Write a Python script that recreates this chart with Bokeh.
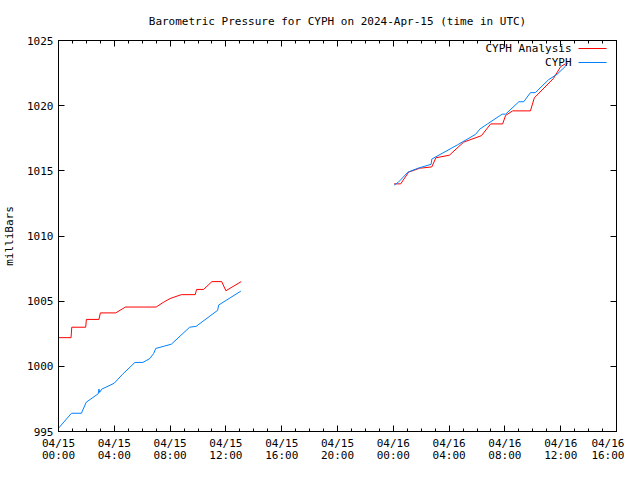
import numpy as np
from bokeh.plotting import figure
from bokeh.models import (Range1d, FixedTicker, LinearAxis, Label, BoxAnnotation,
                          CustomJSTickFormatter)
from bokeh.embed import file_html
from bokeh.resources import INLINE

FONT = "DejaVu Sans Mono"
RED = "#ff0000"
BLUE = "#0080ff"

# ---- data (hours since 2024-04-15 00:00 UTC, pressure in mb) ----
analysis_left_hours = [0.0, 0.9, 0.95, 1.95, 2.0, 2.9, 3.0, 4.1, 4.8, 7.0, 7.5,
                       8.0, 8.8, 9.8, 9.9, 10.4, 11.0, 11.7, 12.0, 13.1]
analysis_left_mb = [1002.2, 1002.2, 1003.0, 1003.0, 1003.6, 1003.6, 1004.1, 1004.1,
                    1004.55, 1004.55, 1004.9, 1005.2, 1005.5, 1005.5, 1005.9, 1005.9,
                    1006.5, 1006.5, 1005.8, 1006.5]
analysis_right_hours = [24.06, 24.53, 25.1, 25.89, 26.76, 27.05, 28.02, 29.04, 30.32,
                        30.98, 31.84, 32.05, 32.55, 33.83, 34.11, 35.49, 36.0, 36.32]
analysis_right_mb = [1014.0, 1014.0, 1014.9, 1015.2, 1015.3, 1016.0, 1016.2, 1017.2,
                     1017.7, 1018.6, 1018.6, 1019.25, 1019.6, 1019.6, 1020.6, 1022.1,
                     1023.0, 1023.2]

obs_left_hours = [0.0, 0.93, 1.64, 1.99, 2.85, 2.9, 2.95, 3.1, 3.99, 4.6, 5.48, 6.05,
                  6.55, 6.83, 6.97, 7.62, 8.09, 9.4, 9.87, 11.41, 11.48, 13.07]
obs_left_mb = [995.25, 996.4, 996.4, 997.25, 997.9, 998.25, 998.0, 998.25, 998.7,
               999.4, 1000.3, 1000.3, 1000.6, 1001.0, 1001.37, 1001.56, 1001.7,
               1003.0, 1003.07, 1004.3, 1004.7, 1005.77]
obs_right_hours = [24.06, 24.34, 25.05, 25.77, 26.71, 26.76, 28.61, 29.9, 30.2, 30.75,
                   31.81, 32.05, 33.0, 33.35, 33.83, 34.18, 35.14, 35.73, 36.32, 36.5]
obs_right_mb = [1013.9, 1014.1, 1014.9, 1015.2, 1015.5, 1015.9, 1017.0, 1017.8, 1018.2,
                1018.6, 1019.35, 1019.35, 1020.3, 1020.3, 1021.0, 1021.0, 1022.0,
                1022.4, 1023.0, 1023.3]

x_tick_hours = [0, 4, 8, 12, 16, 20, 24, 28, 32, 36, 40]
x_tick_labels = ["04/15\n00:00", "04/15\n04:00", "04/15\n08:00", "04/15\n12:00",
                 "04/15\n16:00", "04/15\n20:00", "04/16\n00:00", "04/16\n04:00",
                 "04/16\n08:00", "04/16\n12:00", "04/16\n16:00"]
x_minor_hours = list(range(0, 41))
y_ticks = [995, 1000, 1005, 1010, 1015, 1020, 1025]

series_names = ["CYPH Analysis", "CYPH"]

# ---- layout ----
W, H = 624, 464
BL, BR, BT, BB = 58, 8, 40, 32
FW, FH = W - BL - BR, H - BT - BB

p = figure(width=W, height=H, output_backend="svg", toolbar_location=None,
           x_range=Range1d(0, 40), y_range=Range1d(995, 1025),
           min_border_left=BL, min_border_right=BR, min_border_top=BT,
           min_border_bottom=BB, background_fill_color="white",
           border_fill_color="white")
p.title.text = "Barometric Pressure for CYPH on 2024-Apr-15 (time in UTC)"
p.title.text_font = FONT
p.title.text_font_size = "11px"
p.title.text_font_style = "normal"
p.title.text_color = "black"
p.title.align = "center"
p.title.standoff = 25

p.grid.visible = False
p.outline_line_color = "black"
p.outline_line_width = 1

nan = [np.nan]
ax_x = analysis_left_hours + nan + analysis_right_hours
ax_y = analysis_left_mb + nan + analysis_right_mb
ob_x = obs_left_hours + nan + obs_right_hours
ob_y = obs_left_mb + nan + obs_right_mb
p.line(ax_x, ax_y, line_color=RED, line_width=1)
p.line(ob_x, ob_y, line_color=BLUE, line_width=1)

xt = FixedTicker(ticks=x_tick_hours, minor_ticks=x_minor_hours)
yt = FixedTicker(ticks=y_ticks, minor_ticks=[])

xa = p.xaxis[0]
xa.ticker = xt
xa.major_label_overrides = {t: l for t, l in zip(x_tick_hours, x_tick_labels)}
ya = p.yaxis[0]
ya.ticker = yt
ya.axis_label = "milliBars"

for a in (xa, ya):
    a.major_tick_in = 6
    a.major_tick_out = 0
    a.minor_tick_in = 3
    a.minor_tick_out = 0
    a.major_label_text_font = FONT
    a.major_label_text_font_size = "11px"
    a.major_label_text_color = "black"
    a.axis_line_color = "black"
    a.major_tick_line_color = "black"
    a.minor_tick_line_color = "black"
    a.axis_label_text_font = FONT
    a.axis_label_text_font_size = "11px"
    a.axis_label_text_font_style = "normal"
    a.axis_label_text_color = "black"
xa.major_label_standoff = 5
xa.major_label_text_line_height = 0.95
ya.major_label_standoff = 5
ya.axis_label_standoff = 8

blank = CustomJSTickFormatter(code="return ''")
top = LinearAxis(ticker=FixedTicker(ticks=x_tick_hours, minor_ticks=x_minor_hours),
                 formatter=blank, major_tick_in=6, major_tick_out=0,
                 minor_tick_in=3, minor_tick_out=0, major_label_standoff=0,
                 major_label_text_font_size="1px")
right = LinearAxis(ticker=FixedTicker(ticks=y_ticks, minor_ticks=[]),
                   formatter=blank, major_tick_in=6, major_tick_out=0,
                   minor_tick_in=3, minor_tick_out=0, major_label_standoff=0,
                   major_label_text_font_size="1px")
p.add_layout(top, "above")
p.add_layout(right, "right")

# ---- legend (gnuplot style: text then sample line), placed from frame top-right ----
for i, (name, col) in enumerate(zip(series_names, [RED, BLUE])):
    ypos = FH - 9 - 14 * i
    p.add_layout(Label(x=FW - 45, y=ypos, x_units="screen", y_units="screen", text=name,
                       text_font=FONT, text_font_size="11px", text_align="right",
                       text_baseline="middle", text_color="black"))
    p.add_layout(BoxAnnotation(left=FW - 38, right=FW - 10, bottom=ypos - 0.5,
                               top=ypos + 0.5, left_units="screen",
                               right_units="screen", bottom_units="screen",
                               top_units="screen", fill_color=col, fill_alpha=1.0,
                               line_color=None))

open("out.html", "w").write(file_html(p, INLINE))
